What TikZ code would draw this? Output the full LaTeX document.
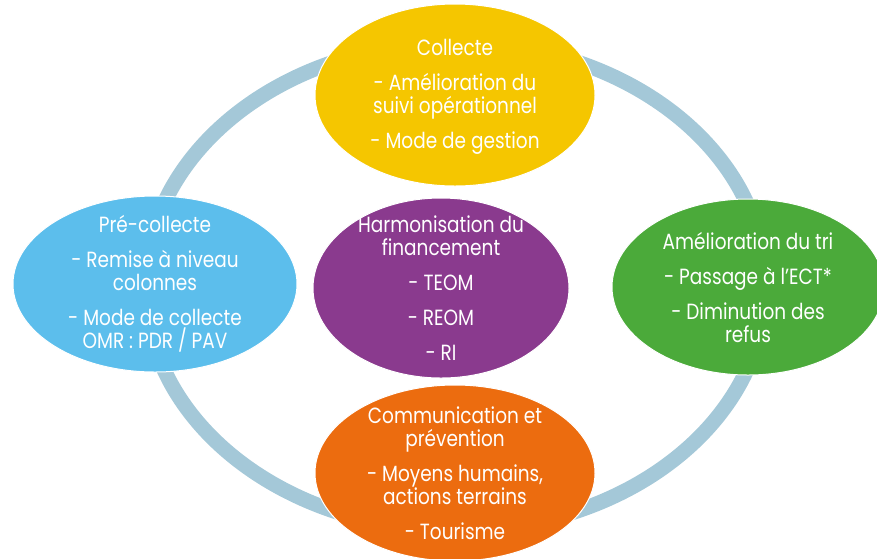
\documentclass[tikz,border=0pt]{standalone}
\usepackage{fontspec}
\setmainfont{Poppins}[FakeStretch=0.84]
\usetikzlibrary{shapes.geometric}
\definecolor{ringc}{HTML}{A4C8D8}
\definecolor{cyel}{HTML}{F5C600}
\definecolor{cblu}{HTML}{5CBEEC}
\definecolor{cpur}{HTML}{8A3A8E}
\definecolor{cgre}{HTML}{4BAA3A}
\definecolor{cora}{HTML}{EC6C0F}
\begin{document}
\begin{tikzpicture}[x=1pt,y=-1pt,
  blob/.style={ellipse, draw=white, line width=1pt, inner sep=0pt},
  txt/.style={text=white, align=center, inner sep=0pt, font=\fontsize{22}{23}\selectfont}]
\useasboundingbox (0,0) rectangle (877,558);
\coordinate (ctr) at (455.5,286.5);
\draw[ringc, line width=15pt] (ctr) ellipse [x radius=310pt, y radius=244pt];
\node[blob, fill=cyel, minimum width=280pt, minimum height=182pt] (col) at (455,95) {};
\node[blob, fill=cblu, minimum width=284pt, minimum height=176pt] (pre) at (155,284) {};
\node[blob, fill=cpur, minimum width=256pt, minimum height=180pt] (har) at (441,288) {};
\node[blob, fill=cgre, minimum width=272pt, minimum height=176pt] (tri) at (748,287) {};
\node[blob, fill=cora, minimum width=280pt, minimum height=176pt] (com) at (455,473) {};
\node[txt] (tcol) at ([yshift=-2pt]col) {Collecte\\[12pt]- Amélioration du\\suivi opérationnel\\[12pt]- Mode de gestion};
\node[txt] (tpre) at (pre) {Pré-collecte\\[12pt]- Remise à niveau\\colonnes\\[12pt]- Mode de collecte\\OMR : PDR / PAV};
\node[txt] (thar) at (har) {Harmonisation du\\financement\\[12pt]- TEOM\\[12pt]- REOM\\[12pt]- RI};
\node[txt] (ttri) at (tri) {Amélioration du tri\\[12pt]- Passage à l’ECT*\\[12pt]- Diminution des\\refus};
\node[txt] (tcom) at (com) {Communication et\\prévention\\[12pt]- Moyens humains,\\actions terrains\\[12pt]- Tourisme};
\end{tikzpicture}
\end{document}
